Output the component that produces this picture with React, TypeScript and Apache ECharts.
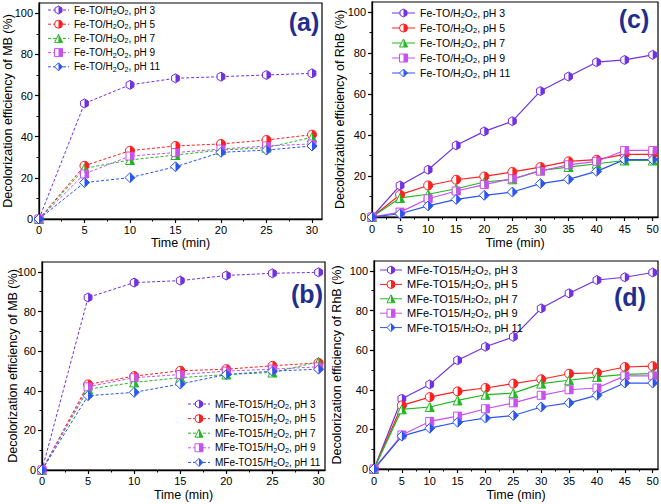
import React, { useEffect, useRef } from 'react';
import * as echarts from 'echarts';

// ---------------- data ----------------
const timeMB = [0, 5, 10, 15, 20, 25, 30];
const timeRhB = [0, 5, 10, 15, 20, 25, 30, 35, 40, 45, 50];

const phLabels = ['pH 3', 'pH 5', 'pH 7', 'pH 9', 'pH 11'];

// (a) MB, Fe-TO/H2O2
const mbFe_pH3 = [0, 56.2, 65.2, 68.4, 69.2, 70.0, 70.8];
const mbFe_pH5 = [0, 25.9, 33.2, 35.5, 36.5, 38.4, 41.0];
const mbFe_pH7 = [0, 24.6, 28.7, 31.1, 33.5, 34.7, 39.7];
const mbFe_pH9 = [0, 21.9, 30.6, 32.3, 34.0, 35.5, 36.5];
const mbFe_pH11 = [0, 17.7, 20.1, 25.4, 32.4, 33.5, 35.5];

// (b) MB, MFe-TO15/H2O2
const mbMFe_pH3 = [0, 87.1, 94.6, 95.6, 98.2, 99.3, 99.8];
const mbMFe_pH5 = [0, 43.2, 47.4, 50.1, 50.9, 52.6, 54.1];
const mbMFe_pH7 = [0, 40.8, 44.2, 46.6, 48.2, 49.2, 54.6];
const mbMFe_pH9 = [0, 42.0, 46.6, 48.2, 49.9, 50.9, 52.1];
const mbMFe_pH11 = [0, 37.5, 39.2, 43.4, 48.2, 49.9, 50.9];

// (c) RhB, Fe-TO/H2O2
const rhbFe_pH3 = [0, 15.4, 23.1, 35.0, 41.8, 46.8, 61.5, 68.6, 75.6, 76.7, 79.2];
const rhbFe_pH5 = [0, 10.9, 15.4, 18.2, 19.8, 22.0, 24.4, 27.2, 28.0, 30.6, 30.6];
const rhbFe_pH7 = [0, 9.3, 11.1, 13.8, 17.1, 18.4, 22.8, 24.4, 26.0, 27.6, 27.6];
const rhbFe_pH9 = [0, 2.4, 8.9, 12.7, 15.8, 18.7, 22.4, 25.5, 27.2, 32.5, 32.5];
const rhbFe_pH11 = [0, 1.6, 5.4, 8.6, 10.6, 12.2, 16.3, 18.4, 22.3, 28.0, 28.0];

// (d) RhB, MFe-TO15/H2O2
const rhbMFe_pH3 = [0, 35.5, 42.7, 54.9, 61.7, 66.7, 81.1, 88.7, 95.4, 96.8, 99.2];
const rhbMFe_pH5 = [0, 32.1, 36.3, 39.2, 40.9, 43.1, 45.3, 48.1, 48.6, 51.5, 51.9];
const rhbMFe_pH7 = [0, 30.1, 31.3, 34.6, 37.5, 38.3, 43.1, 44.8, 46.5, 47.8, 48.1];
const rhbMFe_pH9 = [0, 17.2, 24.0, 26.7, 30.4, 33.4, 37.2, 40.0, 40.9, 47.0, 47.0];
const rhbMFe_pH11 = [0, 16.6, 20.6, 23.6, 25.7, 27.0, 31.3, 33.4, 37.2, 43.4, 43.4];

const xTicksMB = [0, 5, 10, 15, 20, 25, 30];
const xMinorMB = [2.5, 7.5, 12.5, 17.5, 22.5, 27.5];
const xTicksRhB = [0, 5, 10, 15, 20, 25, 30, 35, 40, 45, 50];
const xMinorRhB = [2.5, 7.5, 12.5, 17.5, 22.5, 27.5, 32.5, 37.5, 42.5, 47.5];
const yTicks = [0, 20, 40, 60, 80, 100];
const yMinor = [10, 30, 50, 70, 90];

// ---------------- styling ----------------
const FONT = 'Liberation Sans, Arial, Helvetica, sans-serif';
const COLORS = ['#7030e4', '#ff1f1f', '#1fb81f', '#c850f0', '#2a55ee'];
const SHAPES = ['hex', 'circle', 'tri', 'rect', 'diamond'];
const SIZES = [9, 9, 9, 8, 10];

const FULL: Record<string, string> = {
  hex: 'M10 0 L18.66 5 L18.66 15 L10 20 L1.34 15 L1.34 5 Z',
  circle: 'M10 0 A10 10 0 1 1 10 20 A10 10 0 1 1 10 0 Z',
  tri: 'M10 0 L20 20 L0 20 Z',
  rect: 'M0 0 L20 0 L20 20 L0 20 Z',
  diamond: 'M10 0 L20 10 L10 20 L0 10 Z',
};
const HALF: Record<string, string> = {
  hex: 'M10 0 L18.66 5 L18.66 15 L10 20 Z',
  circle: 'M10 0 A10 10 0 0 1 10 20 Z',
  tri: 'M10 0 L20 20 L10 20 Z',
  rect: 'M10 0 L20 0 L20 20 L10 20 Z',
  diamond: 'M10 0 L20 10 L10 20 Z',
};
const ANCHOR = ' M0 0 L0 0 M20 20 L20 20';

function legendIcon(shape: string, color: string, dashed: boolean, w: number, h: number) {
  const sz = 8;
  const s = sz / 20;
  const tx = w / 2 - sz / 2;
  const ty = h / 2 - sz / 2;
  const svg =
    `<svg xmlns="http://www.w3.org/2000/svg" width="${w}" height="${h}" viewBox="0 0 ${w} ${h}">` +
    `<line x1="0" y1="${h / 2}" x2="${w}" y2="${h / 2}" stroke="${color}" stroke-width="1" ${dashed ? 'stroke-dasharray="3,2"' : ''}/>` +
    `<g transform="translate(${tx},${ty}) scale(${s})">` +
    `<path d="${FULL[shape]}" fill="#ffffff" stroke="${color}" stroke-width="2.5"/>` +
    `<path d="${HALF[shape]}" fill="${color}"/>` +
    `</g></svg>`;
  return 'image://data:image/svg+xml;charset=utf-8,' + encodeURIComponent(svg);
}

type Panel = {
  key: string;
  grid: { left: number; top: number; width: number; height: number };
  xMax: number;
  xData: number[];
  xTicks: number[];
  xMinor: number[];
  series: number[][];
  dashed: boolean;
  prefix: string;
  yName: string;
  yNameGap: number;
  legend: { left: number; top: number; itemWidth: number; itemGap: number; fontSize: number };
  label: { text: string; x: number; y: number };
  labelMargin: number;
  nameGap: number;
};

const panels: Panel[] = [
  {
    key: 'a',
    grid: { left: 39, top: 3, width: 283, height: 216 },
    xMax: 31.1,
    xData: timeMB,
    xTicks: xTicksMB,
    xMinor: xMinorMB,
    series: [mbFe_pH3, mbFe_pH5, mbFe_pH7, mbFe_pH9, mbFe_pH11],
    dashed: true,
    prefix: 'Fe-TO',
    yName: 'Decolorization efficiency of MB (%)',
    yNameGap: 24.5,
    legend: { left: 48, top: 4, itemWidth: 21, itemGap: 2.2, fontSize: 10 },
    label: { text: '(a)', x: 304, y: 22 },
    labelMargin: 5,
    nameGap: 17,
  },
  {
    key: 'b',
    grid: { left: 42, top: 262, width: 283, height: 208 },
    xMax: 30.7,
    xData: timeMB,
    xTicks: xTicksMB,
    xMinor: xMinorMB,
    series: [mbMFe_pH3, mbMFe_pH5, mbMFe_pH7, mbMFe_pH9, mbMFe_pH11],
    dashed: true,
    prefix: 'MFe-TO15',
    yName: 'Decolorization efficiency of MB (%)',
    yNameGap: 23,
    legend: { left: 188, top: 398, itemWidth: 22, itemGap: 2.6, fontSize: 10 },
    label: { text: '(b)', x: 307, y: 294 },
    labelMargin: 5,
    nameGap: 18,
  },
  {
    key: 'c',
    grid: { left: 372, top: 2, width: 286, height: 215 },
    xMax: 50.94,
    xData: timeRhB,
    xTicks: xTicksRhB,
    xMinor: xMinorRhB,
    series: [rhbFe_pH3, rhbFe_pH5, rhbFe_pH7, rhbFe_pH9, rhbFe_pH11],
    dashed: false,
    prefix: 'Fe-TO',
    yName: 'Decolorization efficiency of RhB (%)',
    yNameGap: 25.5,
    legend: { left: 392, top: 7, itemWidth: 23, itemGap: 3, fontSize: 10.5 },
    label: { text: '(c)', x: 634, y: 19 },
    labelMargin: 6,
    nameGap: 19,
  },
  {
    key: 'd',
    grid: { left: 374, top: 261, width: 284, height: 208 },
    xMax: 50.95,
    xData: timeRhB,
    xTicks: xTicksRhB,
    xMinor: xMinorRhB,
    series: [rhbMFe_pH3, rhbMFe_pH5, rhbMFe_pH7, rhbMFe_pH9, rhbMFe_pH11],
    dashed: false,
    prefix: 'MFe-TO15',
    yName: 'Decolorization efficiency of RhB (%)',
    yNameGap: 31,
    legend: { left: 380, top: 264, itemWidth: 22, itemGap: 2.4, fontSize: 11 },
    label: { text: '(d)', x: 630, y: 297 },
    labelMargin: 6,
    nameGap: 19,
  },
];

function buildOption() {
  const grid: any[] = [];
  const xAxis: any[] = [];
  const yAxis: any[] = [];
  const series: any[] = [];
  const legend: any[] = [];
  const graphic: any[] = [];
  const display: Record<string, string> = {};

  panels.forEach((p, k) => {
    grid.push({
      ...p.grid,
      show: true,
      borderColor: '#000',
      borderWidth: 1.2,
      backgroundColor: 'transparent',
      containLabel: false,
      outerBoundsMode: 'none',
    });
    const axisLineStyle = { color: '#000', width: 1.3 };
    const xi = xAxis.length;
    xAxis.push({
      type: 'value',
      gridIndex: k,
      min: 0,
      max: p.xMax,
      position: 'bottom',
      axisLine: { show: true, onZero: false, lineStyle: axisLineStyle },
      axisTick: { show: true, customValues: p.xTicks, length: 4, lineStyle: { color: '#000', width: 1.2 } },
      axisLabel: { customValues: p.xTicks, fontSize: 11, color: '#000', fontFamily: FONT, margin: p.labelMargin },
      splitLine: { show: false },
      name: 'Time (min)',
      nameLocation: 'middle',
      nameGap: p.nameGap,
      nameMoveOverlap: false,
      nameTextStyle: { fontSize: 12.5, color: '#000', fontFamily: FONT },
    });
    xAxis.push({
      type: 'value',
      gridIndex: k,
      min: 0,
      max: p.xMax,
      position: 'bottom',
      axisLine: { show: false, onZero: false },
      axisTick: { show: true, customValues: p.xMinor, length: 2.5, lineStyle: { color: '#000', width: 1 } },
      axisLabel: { show: false },
      splitLine: { show: false },
    });
    const yi = yAxis.length;
    yAxis.push({
      type: 'value',
      gridIndex: k,
      min: 0,
      max: 105,
      position: 'left',
      axisLine: { show: true, onZero: false, lineStyle: axisLineStyle },
      axisTick: { show: true, customValues: yTicks, length: 4, lineStyle: { color: '#000', width: 1.2 } },
      axisLabel: { customValues: yTicks, fontSize: 11, color: '#000', fontFamily: FONT, margin: 6 },
      splitLine: { show: false },
      name: p.yName,
      nameLocation: 'middle',
      nameGap: p.yNameGap,
      nameMoveOverlap: false,
      nameTextStyle: { fontSize: 12.5, color: '#000', fontFamily: FONT },
    });
    yAxis.push({
      type: 'value',
      gridIndex: k,
      min: 0,
      max: 105,
      position: 'left',
      axisLine: { show: false, onZero: false },
      axisTick: { show: true, customValues: yMinor, length: 2.5, lineStyle: { color: '#000', width: 1 } },
      axisLabel: { show: false },
      splitLine: { show: false },
    });

    const names: any[] = [];
    p.series.forEach((vals, i) => {
      const color = COLORS[i];
      const shape = SHAPES[i];
      const name = `${p.key}-${phLabels[i]}`;
      display[name] = `${p.prefix}/H{s|2}O{s|2}, ${phLabels[i]}`;
      const pts = p.xData.map((x, j) => [x, vals[j]]);
      series.push({
        type: 'line',
        name,
        xAxisIndex: xi,
        yAxisIndex: yi,
        data: pts,
        clip: false,
        symbol: 'path://' + FULL[shape] + ANCHOR,
        symbolSize: SIZES[i],
        showAllSymbol: true,
        lineStyle: { color, width: p.dashed ? 1 : 1.2, type: p.dashed ? [3, 2] : 'solid' },
        itemStyle: { color: '#ffffff', borderColor: color, borderWidth: 1 },
        emphasis: { disabled: true },
        z: 2,
      });
      series.push({
        type: 'scatter',
        name: name + '-half',
        xAxisIndex: xi,
        yAxisIndex: yi,
        data: pts,
        clip: false,
        symbol: 'path://' + HALF[shape] + ANCHOR,
        symbolSize: SIZES[i],
        itemStyle: { color, opacity: 1 },
        silent: true,
        emphasis: { disabled: true },
        z: 3,
      });
      names.push({ name, icon: legendIcon(shape, color, p.dashed, p.legend.itemWidth, 10) });
    });

    legend.push({
      orient: 'vertical',
      left: p.legend.left,
      top: p.legend.top,
      padding: 0,
      itemWidth: p.legend.itemWidth,
      itemHeight: 10,
      itemGap: p.legend.itemGap,
      selectedMode: false,
      data: names,
      formatter: (n: string) => display[n],
      textStyle: {
        fontSize: p.legend.fontSize,
        fontFamily: FONT,
        color: '#000',
        lineHeight: 12,
        rich: {
          s: {
            fontSize: p.legend.fontSize * 0.72,
            fontFamily: FONT,
            color: '#000',
            lineHeight: 8,
            verticalAlign: 'bottom',
          },
        },
      },
    });

    graphic.push({
      type: 'text',
      x: p.label.x,
      y: p.label.y,
      silent: true,
      style: {
        text: p.label.text,
        fontSize: 25,
        fontWeight: 'bold',
        fontFamily: FONT,
        fill: '#1f2d8f',
        align: 'center',
        verticalAlign: 'middle',
      },
      z: 10,
    });
  });

  return {
    animation: false,
    backgroundColor: '#ffffff',
    grid,
    xAxis,
    yAxis,
    series,
    legend,
    graphic,
    tooltip: { show: false },
  };
}

export default function App() {
  const ref = useRef<HTMLDivElement>(null);
  useEffect(() => {
    document.body.style.margin = '0';
    document.documentElement.style.margin = '0';
    if (!ref.current) return;
    const chart = echarts.init(ref.current, null, { renderer: 'svg', width: 661, height: 504 });
    chart.setOption(buildOption() as any);
    return () => {
      chart.dispose();
    };
  }, []);
  return <div ref={ref} style={{ width: 661, height: 504, background: '#fff', margin: 0 }} />;
}
